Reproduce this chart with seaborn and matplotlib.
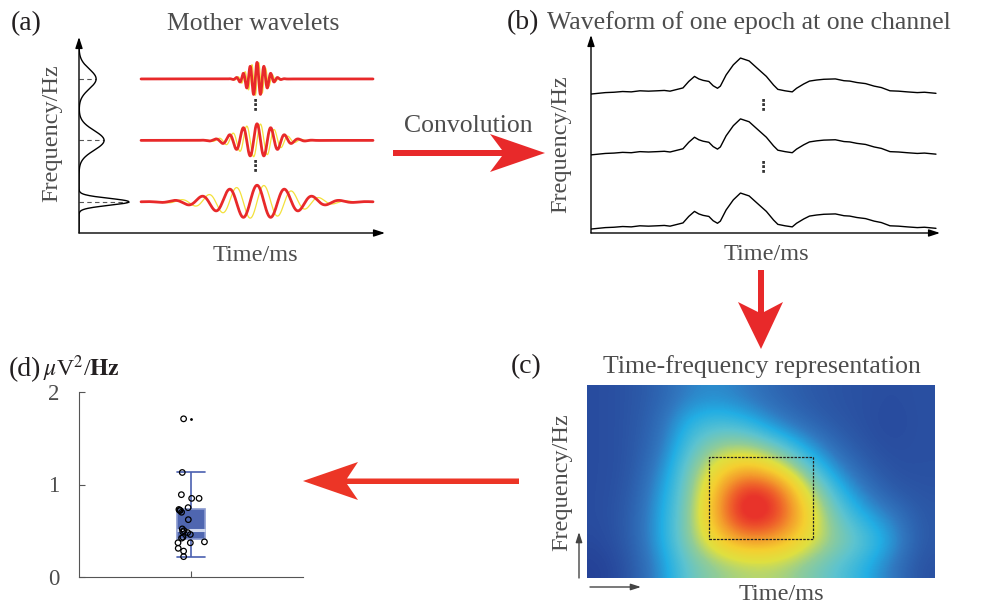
import numpy as np
import matplotlib
matplotlib.use("Agg")
import matplotlib.pyplot as plt
import seaborn as sns
from matplotlib.colors import LinearSegmentedColormap
from matplotlib.patches import Polygon, Rectangle
from matplotlib.transforms import blended_transform_factory

# ---------------- data ----------------
# (a) Morlet mother wavelets, one row per centre frequency (top -> bottom)
wavelet_freqs = [28, 14, 7]            # Hz
wavelet_cycles = 8.5
wavelet_amp = 0.27                     # row half-height, octaves
spectrum_height = [0.056, 0.082, 0.163]  # relative spectral peak (axes fraction)
spectrum_width = [0.16, 0.16, 0.057]     # spectral peak width, octaves

# (b) single-epoch waveform (ms, uV)
erp_times = [-200, -175, -150, -120, -90, -60, -30, 0, 30, 55, 75, 90, 100, 120, 140,
             160, 175, 190, 210, 225, 240, 250, 270, 295, 320, 350, 375, 410, 435,
             450, 475, 500, 515, 540, 560, 585, 610, 650, 680, 700, 725, 755, 785,
             810, 840, 870, 900, 935, 960, 1000]
erp_uv = [0.0, 0.2, 0.4, 0.5, 0.7, 0.6, 0.9, 0.8, 0.9, 1.0, 0.8, 1.1, 1.3, 1.7, 3.5,
          4.9, 4.2, 3.8, 3.5, 2.3, 1.6, 2.2, 5.3, 8.1, 10.0, 9.2, 7.4, 4.9, 2.5,
          1.3, 0.9, 0.6, 1.6, 2.8, 3.6, 3.9, 4.1, 4.2, 3.7, 3.6, 3.2, 2.9, 2.2,
          1.8, 0.9, 0.8, 0.6, 0.4, 0.5, 0.2]
trace_offsets = [38.6, 21.7, 1.1]      # uV, stacked channels

# (c) time-frequency power, rows from high to low frequency
tf_power = [
    [0.06, 0.08, 0.12, 0.20, 0.22, 0.18, 0.13, 0.10, 0.08, 0.07, 0.06, 0.07],
    [0.06, 0.08, 0.14, 0.30, 0.34, 0.30, 0.20, 0.13, 0.09, 0.07, 0.05, 0.07],
    [0.06, 0.08, 0.16, 0.36, 0.48, 0.50, 0.40, 0.26, 0.14, 0.08, 0.06, 0.07],
    [0.06, 0.08, 0.20, 0.42, 0.64, 0.76, 0.66, 0.44, 0.24, 0.12, 0.07, 0.07],
    [0.06, 0.09, 0.24, 0.44, 0.76, 1.08, 0.98, 0.62, 0.36, 0.20, 0.10, 0.08],
    [0.06, 0.10, 0.26, 0.46, 0.78, 1.10, 1.00, 0.70, 0.44, 0.30, 0.20, 0.09],
    [0.05, 0.10, 0.26, 0.46, 0.66, 0.78, 0.76, 0.62, 0.48, 0.38, 0.26, 0.09],
    [0.03, 0.08, 0.22, 0.40, 0.48, 0.52, 0.52, 0.46, 0.38, 0.30, 0.18, 0.07],
]
tf_time_range = (-200, 1000)   # ms
tf_freq_range = (0, 40)        # Hz
roi_time = (220, 580)
roi_freq = (8, 25)

# (d) ROI power per subject (uV^2/Hz) and horizontal jitter
power_values = [1.71, 1.13, 0.89, 0.85, 0.85, 0.75, 0.73, 0.72, 0.72, 0.70, 0.62, 0.52,
                0.50, 0.49, 0.48, 0.46, 0.43, 0.42, 0.38, 0.37, 0.37, 0.31, 0.28, 0.22]
jitter = [-0.033, -0.039, -0.043, 0.003, 0.036, -0.013, -0.054, -0.048, -0.051, -0.042,
          -0.012, -0.039, -0.031, -0.037, -0.015, -0.003, -0.036, -0.042, 0.060, -0.003,
          -0.058, -0.057, -0.033, -0.033]

# ---------------- style ----------------
sns.set_theme(style="white")
plt.rcParams["font.family"] = ["Liberation Serif", "DejaVu Serif"]
plt.rcParams["mathtext.fontset"] = "stix"

W, H = 981, 605
fig = plt.figure(figsize=(W / 100, H / 100), dpi=100)
fig.patch.set_facecolor("white")

GREY = "#4d4d4d"
DARK = "#231f20"
RED = "#e8292a"
TITLE_FS = 18.5
LABEL_FS = 17.5
PANEL_FS = 20


def rect(x0, y0, x1, y1):
    """Axes rectangle from pixel corners (top-left origin)."""
    return [x0 / W, 1 - y1 / H, (x1 - x0) / W, (y1 - y0) / H]


def arrow_axes(ax, color="black", lw=1.0):
    for sp in ax.spines.values():
        sp.set_visible(False)
    ax.set_xticks([])
    ax.set_yticks([])
    ap = dict(arrowstyle="-|>,head_length=0.55,head_width=0.18", color=color, lw=lw,
              shrinkA=0, shrinkB=0)
    ax.annotate("", xy=(1, 0), xytext=(0, 0), xycoords="axes fraction", arrowprops=ap)
    ax.annotate("", xy=(0, 1), xytext=(0, 0), xycoords="axes fraction", arrowprops=ap)
    ax.patch.set_alpha(0)


# ---------------- (a) mother wavelets ----------------
axa = fig.add_axes(rect(79, 37, 385, 233))
axa.set_xlim(-921, 662)
axa.set_ylim(2.30, 5.49)
arrow_axes(axa)

t = np.arange(-600, 600.5, 0.5)
for f in wavelet_freqs:
    level = np.log2(f)
    sigma = wavelet_cycles / (2 * np.pi * f) * 1000
    env = np.exp(-t ** 2 / (2 * sigma ** 2))
    phase = 2 * np.pi * f * t / 1000
    sns.lineplot(x=t, y=level + wavelet_amp * env * np.sin(phase), ax=axa,
                 color="#f3e13c", lw=0.9, sort=False)
    sns.lineplot(x=t, y=level + wavelet_amp * env * np.cos(phase), ax=axa,
                 color=RED, lw=2.0, sort=False)

# spectrum of the wavelet family along the frequency axis
blend = blended_transform_factory(axa.transAxes, axa.transData)
fy = np.linspace(2.32, 5.33, 600)
spec = np.zeros_like(fy)
for f, h, w in zip(wavelet_freqs, spectrum_height, spectrum_width):
    spec += h * np.exp(-(fy - np.log2(f)) ** 2 / (2 * w ** 2))
    axa.plot([0, h], [np.log2(f)] * 2, transform=blend, color="#555555",
             lw=0.8, ls=(0, (4, 3)))
axa.plot(spec, fy, transform=blend, color="black", lw=1.0)

# ---------------- (b) waveform ----------------
axb = fig.add_axes(rect(591, 35, 940, 233))
axb.set_xlim(-200, 1014)
axb.set_ylim(0, 55)
arrow_axes(axb)
for off in trace_offsets:
    sns.lineplot(x=erp_times, y=np.array(erp_uv) + off, ax=axb, color="black",
                 lw=1.0, sort=False)

# ---------------- (c) time-frequency map ----------------
tf_cmap = LinearSegmentedColormap.from_list("tfr", [
    (0.00, "#22368f"), (0.08, "#2b55a5"), (0.18, "#3178c0"), (0.28, "#22aee4"),
    (0.38, "#5cc3d0"), (0.48, "#90cc98"), (0.58, "#dfe040"), (0.68, "#f5cf30"),
    (0.80, "#f39a2c"), (0.92, "#ee5a2a"), (1.00, "#e8332a")])
axc = fig.add_axes(rect(587, 385, 935, 578))
axc.imshow(np.array(tf_power), cmap=tf_cmap, vmin=0, vmax=1, aspect="auto",
           interpolation="bicubic", origin="upper",
           extent=[tf_time_range[0], tf_time_range[1], tf_freq_range[0], tf_freq_range[1]])
axc.add_patch(Rectangle((roi_time[0], roi_freq[0]), roi_time[1] - roi_time[0],
                        roi_freq[1] - roi_freq[0], fill=False, ec="#222222",
                        lw=0.9, ls=(0, (2, 1))))
axc.set_xticks([])
axc.set_yticks([])
for sp in axc.spines.values():
    sp.set_visible(False)

# ---------------- (d) boxplot ----------------
axd = fig.add_axes(rect(79, 392, 303, 577))
BOX = "#4f66b0"
BOX_W = 0.125
sns.boxplot(y=power_values, ax=axd, width=BOX_W, whis=1.5, color=BOX,
            linewidth=1.2, linecolor="#4a60b0",
            boxprops=dict(facecolor=BOX, edgecolor="#8a9ad0"),
            medianprops=dict(color="#d0d8ee", linewidth=2.2),
            flierprops=dict(marker=".", markersize=2, markerfacecolor="black",
                            markeredgecolor="black"))
# whisker caps as wide as the box
for ln in axd.lines:
    xd, yd = np.asarray(ln.get_xdata(), float), np.asarray(ln.get_ydata(), float)
    if len(xd) == 2 and yd[0] == yd[1] and xd[0] != xd[1] and ln.get_linewidth() < 2:
        ln.set_xdata([-BOX_W / 2, BOX_W / 2])
sns.scatterplot(x=jitter, y=power_values, ax=axd, marker="o", s=16,
                facecolor="none", edgecolor="black", linewidth=0.9, zorder=5)
axd.set_xlim(-0.5, 0.5)
axd.set_ylim(0, 2)
axd.set_yticks([0, 1, 2])
axd.set_xticks([0])
axd.set_xticklabels([""])
axd.set_ylabel("")
axd.set_xlabel("")
axd.tick_params(direction="in", length=4, width=0.8, colors="#555555",
                labelsize=16.5, pad=14, left=True, bottom=True)
axd.tick_params(axis="y", labelcolor=GREY)
for s in ["top", "right"]:
    axd.spines[s].set_visible(False)
for s in ["left", "bottom"]:
    axd.spines[s].set_color("#555555")
    axd.spines[s].set_linewidth(0.8)
axd.patch.set_alpha(0)

# ---------------- overlay: labels and flow arrows ----------------
ov = fig.add_axes([0, 0, 1, 1])
ov.set_xlim(0, W)
ov.set_ylim(H, 0)
ov.axis("off")


def flow_arrow(pts, color=RED):
    ov.add_patch(Polygon(pts, closed=True, fc=color, ec="none"))


# convolution: (a) -> (b)
flow_arrow([(393, 150), (502, 150), (490, 134), (545, 153), (490, 172), (502, 156), (393, 156)])
# (b) -> (c)
flow_arrow([(758, 270), (764, 270), (764, 312), (783, 302), (761, 349), (738, 302), (758, 312)])
# (c) -> (d)
flow_arrow([(519, 478.5), (519, 484), (347, 484), (358, 500), (303, 481), (358, 462), (347, 478.5)],
           color="#ec3526")

# small frequency/time arrows of panel (c)
sap = dict(arrowstyle="-|>,head_length=0.5,head_width=0.16", color="#444444", lw=1.0,
           shrinkA=0, shrinkB=0)
ov.annotate("", xy=(579, 532), xytext=(579, 578), arrowprops=sap)
ov.annotate("", xy=(641, 587), xytext=(590, 587), arrowprops=sap)

lab = dict(color=GREY, fontsize=LABEL_FS)
ttl = dict(color=GREY, fontsize=TITLE_FS, va="baseline")
pnl = dict(color=DARK, fontsize=PANEL_FS, va="baseline")

ov.text(11, 30, "(a)", **pnl)
ov.text(253, 30, "Mother wavelets", ha="center", **ttl)
ov.text(52, 133, "Frequency/Hz", rotation=90, ha="center", va="center", **lab)
ov.text(255, 261, "Time/ms", ha="center", va="baseline", **lab)
ov.text(468, 132, "Convolution", ha="center", **ttl)

ov.text(507, 29, "(b)", **pnl)
ov.text(547, 29, "Waveform of one epoch at one channel", **ttl)
ov.text(561, 144, "Frequency/Hz", rotation=90, ha="center", va="center", **lab)
ov.text(766, 260, "Time/ms", ha="center", va="baseline", **lab)

ov.text(511, 373, "(c)", **pnl)
ov.text(762, 373, "Time-frequency representation", ha="center", **ttl)
ov.text(562, 482, "Frequency/Hz", rotation=90, ha="center", va="center", **lab)
ov.text(781, 600, "Time/ms", ha="center", va="baseline", **lab)

ov.text(9, 376, "(d)", **pnl)
ov.text(43, 376, r"$\mu$V$^{2}$/$\mathbf{Hz}$", color=DARK, fontsize=17, va="baseline")

for x, y in [(255, 105), (255, 166), (763, 105), (763, 167)]:
    ov.text(x, y, "\u22ee", ha="center", va="center", color="#333333", fontsize=11,
            family="DejaVu Sans", fontweight="bold")

fig.savefig("out.png", dpi=100, facecolor="white")
